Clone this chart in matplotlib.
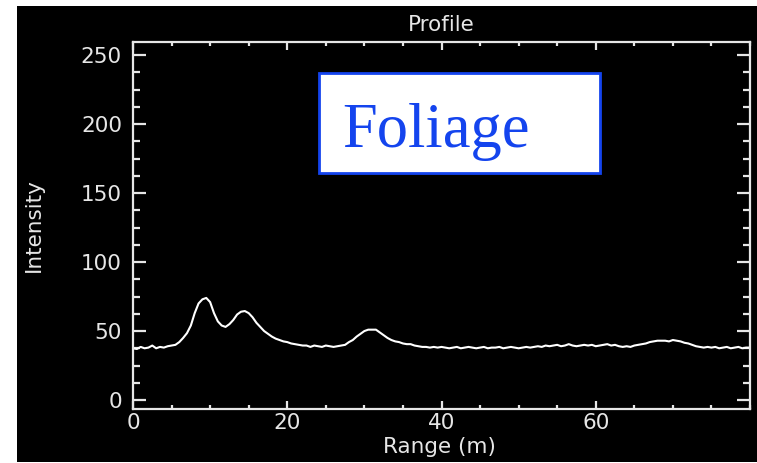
import numpy as np
import matplotlib
matplotlib.use("Agg")
import matplotlib.pyplot as plt
from matplotlib.patches import Rectangle
from matplotlib.ticker import MultipleLocator

# ---- data ----
range_m = [i * 0.5 for i in range(161)]
intensity = [
    37.5, 37.0, 38.5, 37.5, 38.0, 39.5, 37.5, 38.5, 38.0, 39.0,   # 0 - 4.5
    39.5, 40.0, 42.0, 45.0, 48.5, 54.0, 63.0, 70.0, 73.0, 74.0,   # 5 - 9.5
    71.0, 63.0, 57.0, 54.0, 53.0, 55.0, 58.0, 62.0, 64.0, 64.5,   # 10 - 14.5
    63.0, 60.0, 56.0, 53.0, 50.0, 48.0, 46.0, 44.5, 43.5, 42.5,   # 15 - 19.5
    42.0, 41.0, 40.5, 40.0, 39.5, 39.5, 38.5, 39.5, 39.0, 38.5,   # 20 - 24.5
    39.5, 39.0, 38.5, 39.0, 39.5, 40.0, 42.0, 43.5, 46.0, 48.0,   # 25 - 29.5
    50.0, 51.0, 51.0, 51.0, 49.0, 47.0, 45.0, 43.5, 42.5, 42.0,   # 30 - 34.5
    41.0, 40.5, 40.5, 39.5, 39.0, 38.5, 38.5, 38.0, 38.5, 38.0,   # 35 - 39.5
    38.5, 38.0, 37.5, 38.0, 38.5, 37.5, 38.0, 38.5, 38.0, 37.5,   # 40 - 44.5
    38.0, 38.5, 37.5, 38.0, 38.0, 38.5, 37.5, 38.0, 38.5, 38.0,   # 45 - 49.5
    37.5, 38.0, 38.5, 38.0, 38.5, 39.0, 38.5, 39.5, 39.0, 39.5,   # 50 - 54.5
    40.0, 39.0, 39.5, 40.5, 39.5, 39.0, 39.5, 40.0, 39.5, 40.0,   # 55 - 59.5
    39.0, 39.5, 40.0, 40.5, 39.5, 40.0, 39.0, 38.5, 39.0, 38.5,   # 60 - 64.5
    39.5, 40.0, 40.5, 41.0, 42.0, 42.5, 43.0, 43.0, 43.0, 42.5,   # 65 - 69.5
    43.5, 43.0, 42.5, 41.5, 41.0, 40.0, 39.0, 38.5, 38.0, 38.5,   # 70 - 74.5
    38.0, 38.5, 37.5, 38.0, 38.5, 37.5, 38.0, 38.5, 37.5, 38.0,   # 75 - 79.5
    38.0,                                                          # 80
]
x_ticks = [0, 20, 40, 60]
y_ticks = [0, 50, 100, 150, 200, 250]
title = "Profile"
x_label = "Range (m)"
y_label = "Intensity"
box_text = "Foliage"

W, H = 757, 463
fig = plt.figure(figsize=(W / 100, H / 100), dpi=100)
fig.patch.set_facecolor("white")

# black panel
fig.add_artist(Rectangle((17 / W, 1 / H), 1 - 17 / W, (457 - 1) / H,
                         transform=fig.transFigure, facecolor="black",
                         edgecolor="none", zorder=0))

L, R, T, B = 133, 750, 42, 409
ax = fig.add_axes([L / W, (H - B) / H, (R - L) / W, (B - T) / H])
ax.set_facecolor("black")
fg = "#E6E6E6"
fs = 15.5
ax.plot(range_m, intensity, color="white", lw=1.5)

ax.set_xlim(0, 80)
ax.set_ylim(-6.5, 259.5)
ax.set_xticks(x_ticks)
ax.set_yticks(y_ticks)
ax.xaxis.set_minor_locator(MultipleLocator(5))
ax.yaxis.set_minor_locator(MultipleLocator(12.5))
for s in ax.spines.values():
    s.set_color(fg)
    s.set_linewidth(1.6)

ax.tick_params(axis="x", which="major", direction="in", length=6, width=1.6,
               color=fg, top=True, bottom=True, labelsize=fs,
               labelcolor=fg, pad=3)
ax.tick_params(axis="x", which="minor", direction="in", length=3, width=1.6,
               color=fg, top=True, bottom=True)
ax.tick_params(axis="y", which="major", direction="in", length=9.5, width=1.6,
               color=fg, left=True, right=True, labelsize=fs,
               labelcolor=fg, pad=8)
ax.tick_params(axis="y", which="minor", direction="in", length=5, width=1.6,
               color=fg, left=True, right=True)

fig.text(441 / W, (H - 31) / H, title, ha="center", va="baseline",
         color=fg, fontsize=fs)
fig.text(439 / W, (H - 453) / H, x_label, ha="center", va="baseline",
         color=fg, fontsize=fs)
fig.text(34 / W, (H - 225) / H, y_label, ha="center", va="center",
         rotation=90, color=fg, fontsize=fs)

# Foliage box
blue = "#1444EE"
fig.add_artist(Rectangle((319 / W, (H - 173) / H), 281 / W, 100 / H,
                         transform=fig.transFigure, facecolor="white",
                         edgecolor=blue, linewidth=2.0, zorder=5))
fig.text(342 / W, (H - 147) / H, box_text, ha="left", va="baseline",
         color=blue, fontsize=45, family="Liberation Serif", zorder=6)

fig.savefig("out.png", dpi=100, facecolor=fig.get_facecolor())
